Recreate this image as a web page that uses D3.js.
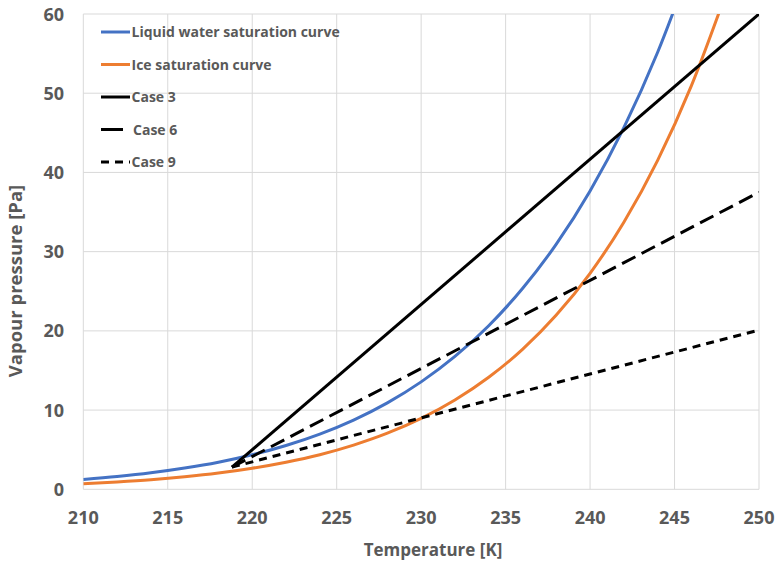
<!DOCTYPE html>
<html>
<head>
<meta charset="utf-8">
<script src="https://cdn.jsdelivr.net/npm/d3@7"></script>
<style>
  html, body { margin: 0; padding: 0; background: #fff; }
  text { font-family: "Open Sans", Lato, sans-serif; font-weight: bold; fill: #595959; }
</style>
</head>
<body>
<svg id="chart" width="776" height="562"></svg>
<script>
// ---- data ----
const liquidT = [210,212,214,216,218,220,222,224,226,228,230,232,234,236,238,240,242,244,246];
const liquidP = [1.23,1.61,2.08,2.68,3.42,4.36,5.53,6.97,8.74,10.91,13.56,16.77,20.65,25.34,30.95,37.66,45.66,55.17,66.43];
const iceT = [210,212,214,216,218,220,222,224,226,228,230,232,234,236,238,240,242,244,246,248];
const iceP = [0.70,0.93,1.21,1.58,2.05,2.66,3.42,4.37,5.58,7.08,8.95,11.27,14.14,17.66,21.99,27.27,33.71,41.52,50.96,62.33];
const caseT = [218.8, 250];
const case3P = [2.8, 60];
const case6P = [2.8, 37.5];
const case9P = [2.8, 20.1];
const xTicks = [210,215,220,225,230,235,240,245,250];
const yTicks = [0,10,20,30,40,50,60];
const seriesNames = ["Liquid water saturation curve","Ice saturation curve","Case 3","Case 6","Case 9"];

(function(){
const svg = d3.select("#chart");
const pL = 83.3, pR = 759, pT = 14, pB = 489.3;
const x = d3.scaleLinear().domain([210,250]).range([pL,pR]);
const y = d3.scaleLinear().domain([0,60]).range([pB,pT]);

const grid = "#d9d9d9";
svg.append("g").selectAll("line").data(xTicks).join("line")
  .attr("x1", d=>x(d)).attr("x2", d=>x(d)).attr("y1", pT).attr("y2", pB)
  .attr("stroke", grid).attr("stroke-width", 1);
svg.append("g").selectAll("line").data(yTicks).join("line")
  .attr("y1", d=>y(d)).attr("y2", d=>y(d)).attr("x1", pL).attr("x2", pR)
  .attr("stroke", grid).attr("stroke-width", 1);

svg.append("g").selectAll("text").data(xTicks).join("text")
  .attr("x", d=>x(d)).attr("y", 524).attr("text-anchor","middle")
  .style("font-size","18px").text(d=>d);
svg.append("g").selectAll("text").data(yTicks).join("text")
  .attr("x", 64).attr("y", d=>y(d)+6.5).attr("text-anchor","end")
  .style("font-size","18px").text(d=>d);

svg.append("text").attr("x", 433).attr("y", 556).attr("text-anchor","middle")
  .style("font-size","17px").text("Temperature [K]");
svg.append("text").attr("transform", "translate(22,281) rotate(-90)")
  .attr("text-anchor","middle").style("font-size","18.5px").text("Vapour pressure [Pa]");

svg.append("defs").append("clipPath").attr("id","clip")
  .append("rect").attr("x", pL).attr("y", pT).attr("width", pR-pL).attr("height", pB-pT);

const line = d3.line().x(d=>x(d[0])).y(d=>y(d[1])).curve(d3.curveMonotoneX);
const plot = svg.append("g").attr("clip-path","url(#clip)");

const series = [
  {pts: d3.zip(liquidT, liquidP), color:"#4472C4", dash:null},
  {pts: d3.zip(iceT, iceP), color:"#ED7D31", dash:null},
  {pts: d3.zip(caseT, case3P), color:"#000", dash:null},
  {pts: d3.zip(caseT, case6P), color:"#000", dash:"15,7"},
  {pts: d3.zip(caseT, case9P), color:"#000", dash:"8,6"}
];
series.forEach(s => {
  plot.append("path").datum(s.pts).attr("d", line)
    .attr("fill","none").attr("stroke", s.color).attr("stroke-width", 3)
    .attr("stroke-dasharray", s.dash);
});

const legY = [32, 64.5, 97, 129.5, 162];
const legDash = [null, null, null, "22,40", "8,6"];
const leg = svg.append("g");
seriesNames.forEach((name, i) => {
  leg.append("line").attr("x1", 101).attr("x2", i===3 ? 123 : 130)
    .attr("y1", legY[i]).attr("y2", legY[i])
    .attr("stroke", series[i].color).attr("stroke-width", 3)
    .attr("stroke-dasharray", legDash[i]);
  leg.append("text").attr("x", i===3 ? 133 : 131.5).attr("y", legY[i]+5)
    .style("font-size","14px").text(name);
});
})();
</script>
</body>
</html>
